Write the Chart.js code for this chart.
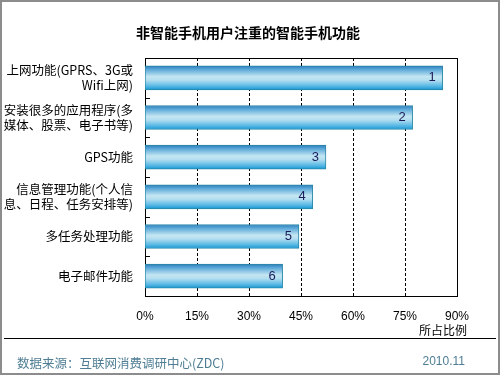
<!DOCTYPE html>
<html>
<head>
<meta charset="utf-8">
<script src="https://cdn.jsdelivr.net/npm/chart.js@4.4.0/dist/chart.umd.min.js"></script>
<style>
  html, body { margin: 0; padding: 0; background: #fff; }
  #wrap { position: relative; width: 500px; height: 375px; box-sizing: border-box; border: 2px solid #8c8c8c; overflow: hidden; font-family: "Noto Sans CJK SC", sans-serif; }
  #chart { position: absolute; left: -2px; top: -2px; }
  .txt { position: absolute; white-space: nowrap; }
  #title { left: 0; width: 492px; top: 20px; text-align: center; font-size: 14px; font-weight: bold; color: #000; }
  #xtitle { right: 31px; top: 319px; font-size: 12px; color: #000; }
  #line { position: absolute; left: 2px; top: 336px; width: 492px; height: 1px; background: #000; }
  #src { left: 15px; top: 351px; font-size: 12.5px; color: #4e7d94; }
  #date { right: 33px; top: 352px; font-size: 12px; color: #4e7d94; font-family: "Liberation Sans", sans-serif; }
</style>
</head>
<body>
<div id="wrap">
  <canvas id="chart" width="500" height="375"></canvas>
  <div class="txt" id="title">非智能手机用户注重的智能手机功能</div>
  <div class="txt" id="xtitle">所占比例</div>
  <div id="line"></div>
  <div class="txt" id="src">数据来源：互联网消费调研中心(ZDC)</div>
  <div class="txt" id="date">2010.11</div>
</div>
<script>
const categories = [
  ['上网功能(GPRS、3G或', 'Wifi上网)'],
  ['安装很多的应用程序(多', '媒体、股票、电子书等)'],
  'GPS功能',
  ['信息管理功能(个人信', '息、日程、任务安排等)'],
  '多任务处理功能',
  '电子邮件功能'
];
const shares = [85.9, 77.2, 52.2, 48.4, 44.4, 39.7];
const ranks = ['1', '2', '3', '4', '5', '6'];
const xTicks = [0, 15, 30, 45, 60, 75, 90];

const BAR_H = 24;

function barGradient(context) {
  const chart = context.chart;
  const yScale = chart.scales.y;
  if (!yScale || context.dataIndex === undefined) return '#6fc0e0';
  const yc = yScale.getPixelForValue(context.dataIndex);
  if (!Number.isFinite(yc)) return '#6fc0e0';
  const g = chart.ctx.createLinearGradient(0, yc - BAR_H / 2, 0, yc + BAR_H / 2);
  g.addColorStop(0, '#2d7cbc');
  g.addColorStop(0.15, '#5aa8d8');
  g.addColorStop(0.45, '#c4e6f2');
  g.addColorStop(0.6, '#b3def0');
  g.addColorStop(0.85, '#55b7e4');
  g.addColorStop(1, '#1596d4');
  return g;
}

const rankLabels = {
  id: 'rankLabels',
  afterDatasetsDraw(chart) {
    const ctx = chart.ctx;
    const meta = chart.getDatasetMeta(0);
    ctx.save();
    ctx.font = '13px "Liberation Sans", sans-serif';
    ctx.fillStyle = '#1c1c5a';
    ctx.textAlign = 'right';
    ctx.textBaseline = 'middle';
    meta.data.forEach((bar, i) => {
      ctx.fillText(ranks[i], bar.x - 7, bar.y);
    });
    ctx.restore();
  }
};

// small inward ticks on the left axis between categories
const yInnerTicks = {
  id: 'yInnerTicks',
  afterDraw(chart) {
    const ctx = chart.ctx;
    const area = chart.chartArea;
    const step = (area.bottom - area.top) / categories.length;
    ctx.save();
    ctx.strokeStyle = '#000';
    ctx.lineWidth = 1;
    ctx.beginPath();
    for (let i = 1; i < categories.length; i++) {
      const y = Math.round(area.top + step * i) + 0.5;
      ctx.moveTo(area.left, y);
      ctx.lineTo(area.left + 5, y);
    }
    ctx.stroke();
    ctx.restore();
  }
};

const dashGrid = {
  id: 'dashGrid',
  beforeDatasetsDraw(chart) {
    // dashed vertical grid plus solid plot frame
    const ctx = chart.ctx;
    const area = chart.chartArea;
    const x = chart.scales.x;
    ctx.save();
    ctx.strokeStyle = '#000';
    ctx.lineWidth = 1;
    ctx.setLineDash([3, 2]);
    ctx.beginPath();
    xTicks.slice(1, -1).forEach(v => {
      const px = Math.round(x.getPixelForValue(v)) + 0.5;
      ctx.moveTo(px, area.top);
      ctx.lineTo(px, area.bottom);
    });
    ctx.stroke();
    ctx.setLineDash([]);
    ctx.strokeRect(Math.round(area.left) + 0.5, Math.round(area.top) + 0.5,
      Math.round(area.right - area.left), Math.round(area.bottom - area.top));
    ctx.restore();
  }
};

new Chart(document.getElementById('chart'), {
  type: 'bar',
  data: {
    labels: categories,
    datasets: [{
      data: shares,
      backgroundColor: barGradient,
      borderColor: '#2a88a6',
      borderWidth: 1,
      borderSkipped: false,
      barThickness: BAR_H
    }]
  },
  options: {
    indexAxis: 'y',
    responsive: false,
    animation: false,
    layout: { padding: { top: 58, right: 43, left: 0, bottom: 0 } },
    plugins: {
      legend: { display: false },
      tooltip: { enabled: false },
      title: { display: false }
    },
    scales: {
      x: {
        min: 0,
        max: 90,
        afterBuildTicks: axis => { axis.ticks = xTicks.map(v => ({ value: v })); },
        afterFit: axis => { axis.height = 79; },
        grid: { display: false, drawTicks: false },
        border: { display: false },
        ticks: {
          padding: 13,
          color: '#000',
          font: { family: '"Liberation Sans", sans-serif', size: 12 },
          callback: v => v + '%'
        }
      },
      y: {
        afterFit: axis => { axis.width = 145; },
        grid: { display: false, drawTicks: false },
        border: { display: false },
        ticks: {
          padding: 12,
          color: '#000',
          font: { family: '"Noto Sans CJK SC", sans-serif', size: 12.5, lineHeight: 1.2 }
        }
      }
    }
  },
  plugins: [dashGrid, rankLabels, yInnerTicks]
});
</script>
</body>
</html>
